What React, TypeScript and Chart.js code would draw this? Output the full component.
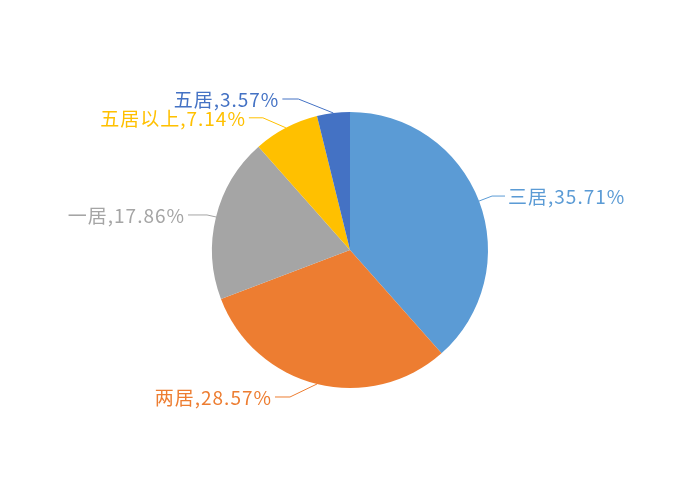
import React, { useEffect, useRef } from "react";
import { Chart, registerables } from "chart.js";

Chart.register(...registerables);

const categories = ["三居", "两居", "一居", "五居以上", "五居"];
const values = [35.71, 28.57, 17.86, 7.14, 3.57];
const colors = ["#5B9BD5", "#ED7D31", "#A5A5A5", "#FFC000", "#4472C4"];
// leader line elbow offsets from slice edge, and horizontal segment length
const elbowOffsets: [number, number][] = [
  [13, -5],
  [-27, 13],
  [-9, -2],
  [-23, -10],
  [-35, -14],
];
const tailLengths = [13, 15, 19, 14, 16];

const labelPlugin = {
  id: "pieLabels",
  afterDraw(chart: any) {
    const ctx = chart.ctx;
    const meta = chart.getDatasetMeta(0);
    ctx.save();
    ctx.font = '19px "Noto Sans CJK SC", "Noto Sans", sans-serif';
    try {
      (ctx as any).letterSpacing = "1px";
    } catch (e) {}
    ctx.textBaseline = "middle";
    ctx.lineWidth = 1;
    meta.data.forEach((arc: any, i: number) => {
      const p = arc.getProps(["x", "y", "startAngle", "endAngle", "outerRadius"], true);
      const mid = (p.startAngle + p.endAngle) / 2;
      const ex = p.x + Math.cos(mid) * p.outerRadius;
      const ey = p.y + Math.sin(mid) * p.outerRadius;
      const [ox, oy] = elbowOffsets[i];
      const bx = ex + ox;
      const by = ey + oy;
      const right = ox > 0;
      const tx = bx + (right ? tailLengths[i] : -tailLengths[i]);
      ctx.strokeStyle = colors[i];
      ctx.beginPath();
      ctx.moveTo(ex, ey);
      ctx.lineTo(bx, by);
      ctx.lineTo(tx, by);
      ctx.stroke();
      ctx.fillStyle = colors[i];
      ctx.textAlign = right ? "left" : "right";
      const text = categories[i] + "," + values[i].toFixed(2) + "%";
      ctx.fillText(text, tx + (right ? 3 : -3), by + 1);
    });
    ctx.restore();
  },
};

export default function App() {
  const ref = useRef<HTMLCanvasElement | null>(null);
  useEffect(() => {
    document.body.style.margin = "0";
    if (!ref.current) return;
    const chart = new Chart(ref.current, {
      type: "pie",
      data: {
        labels: categories,
        datasets: [
          {
            data: values,
            backgroundColor: colors,
            borderWidth: 0,
          },
        ],
      },
      options: {
        animation: false,
        responsive: false,
        layout: { padding: { top: 112, bottom: 112, left: 0, right: 0 } },
        plugins: {
          legend: { display: false },
          tooltip: { enabled: false },
        },
      },
      plugins: [labelPlugin],
    });
    return () => chart.destroy();
  }, []);
  return (
    <div style={{ width: 700, height: 500, background: "#fff" }}>
      <canvas ref={ref} width={700} height={500} />
    </div>
  );
}
